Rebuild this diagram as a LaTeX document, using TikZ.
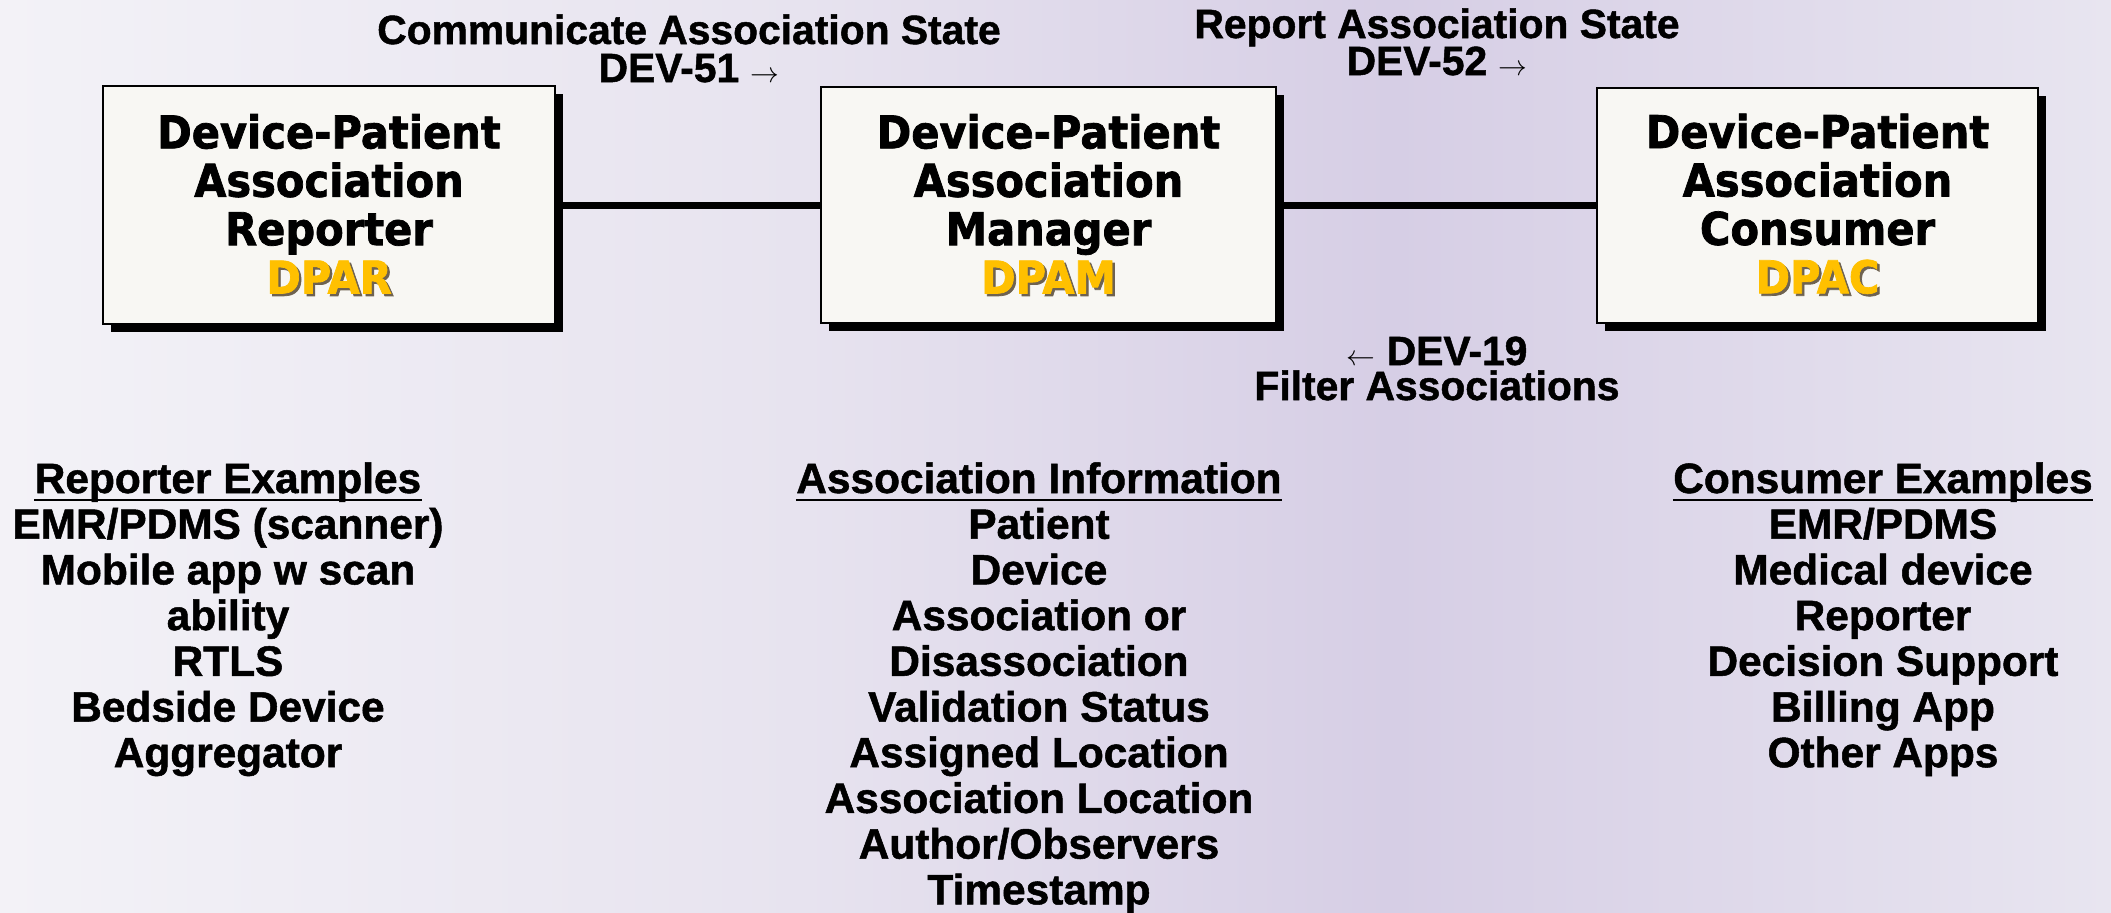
\documentclass[tikz,border=0pt]{standalone}
\usepackage{fontspec}
\setmainfont{Liberation Sans}[BoldFeatures={FakeBold=1.2}]
\newfontfamily\boxfont{DejaVu Sans}[FakeStretch=0.92,BoldFeatures={FakeBold=1.6}]
\usetikzlibrary{shadows}
\definecolor{bgA}{HTML}{F3F2F7}
\definecolor{bgB}{HTML}{E7E3EF}
\definecolor{bgC}{HTML}{D6CEE5}
\definecolor{bgD}{HTML}{E8E5F0}
\definecolor{boxfill}{HTML}{F8F7F3}
\definecolor{tagyellow}{HTML}{FFC000}
\definecolor{tagshadow}{HTML}{6E6250}
\pgfdeclarehorizontalshading{bgshade}{100bp}{color(0bp)=(bgA); color(25bp)=(bgA); color(44bp)=(bgB); color(58bp)=(bgC); color(75bp)=(bgD); color(100bp)=(bgD)}
\newcommand\dptag[1]{\makebox[0pt][l]{\kern1.2pt\raisebox{-1.2pt}{\textcolor{tagshadow}{#1}}}\textcolor{tagyellow}{#1}}
\newcommand\rarr{{\fontsize{14.4pt}{14.4pt}\selectfont$\rightarrow$}}
\newcommand\larr{{\fontsize{14.4pt}{14.4pt}\selectfont$\leftarrow$}}
\tikzset{
  dpbox/.style={draw=black, line width=1pt, fill=boxfill, inner sep=0pt, align=center,
    font=\boxfont\bfseries\fontsize{22.6pt}{24.2pt}\selectfont,
    drop shadow={shadow xshift=4pt, shadow yshift=-4pt, fill=black, opacity=1}},
  conn/.style={line width=3.5pt, black},
  lbl/.style={inner sep=0pt, anchor=base, font=\bfseries\fontsize{20.4pt}{19pt}\selectfont},
  lst/.style={inner sep=0pt, anchor=base, font=\bfseries\fontsize{21.2pt}{22.9pt}\selectfont},
  uline/.style={line width=1.3pt, black}
}
\begin{document}
\begin{tikzpicture}[x=0.5pt,y=-0.5pt]
\useasboundingbox (0,0) rectangle (2111,912);
\shade[shading=bgshade] (0,0) rectangle (2111,912);

% boxes
\node[dpbox, minimum width=226pt, minimum height=119pt] (b1) at (329,205)
  {Device-Patient\\Association\\Reporter\\\dptag{DPAR}};
\node[dpbox, minimum width=227.5pt, minimum height=118pt] (b2) at (1048.5,205)
  {Device-Patient\\Association\\Manager\\\dptag{DPAM}};
\node[dpbox, minimum width=220.5pt, minimum height=117.5pt] (b3) at (1817.5,205)
  {Device-Patient\\Association\\Consumer\\\dptag{DPAC}};

% connectors
\draw[conn] (b1.east) -- (b2.west);
\draw[conn] (b2.east) -- (b3.west);

% connector labels
\node[lbl] (l1a) at (689,44) {Communicate Association State};
\node[lbl] (l1b) at (689,82) {DEV-51 \rarr};
\node[lbl] (l2a) at (1437,38) {Report Association State};
\node[lbl] (l2b) at (1437,75) {DEV-52 \rarr};
\node[lbl] (l3a) at (1437,365) {\larr\ DEV-19};
\node[lbl] (l3b) at (1437,400) {Filter Associations};

% reporter examples
\node[lst] (rh) at (228,493) {Reporter Examples};
\draw[uline] ([yshift=-3.5pt]rh.base west) -- ([yshift=-3.5pt]rh.base east);
\foreach \t [count=\i] in {EMR/PDMS (scanner),Mobile app w scan,ability,RTLS,Bedside Device,Aggregator}
  \node[lst] (r\i) at (228,493+45.7*\i) {\t};

% association information
\node[lst] (ah) at (1039,493) {Association Information};
\draw[uline] ([yshift=-3.5pt]ah.base west) -- ([yshift=-3.5pt]ah.base east);
\foreach \t [count=\i] in {Patient,Device,Association or,Disassociation,Validation Status,Assigned Location,Association Location,Author/Observers,Timestamp}
  \node[lst] (a\i) at (1039,493+45.7*\i) {\t};

% consumer examples
\node[lst] (ch) at (1883,493) {Consumer Examples};
\draw[uline] ([yshift=-3.5pt]ch.base west) -- ([yshift=-3.5pt]ch.base east);
\foreach \t [count=\i] in {EMR/PDMS,Medical device,Reporter,Decision Support,Billing App,Other Apps}
  \node[lst] (c\i) at (1883,493+45.7*\i) {\t};
\end{tikzpicture}
\end{document}
